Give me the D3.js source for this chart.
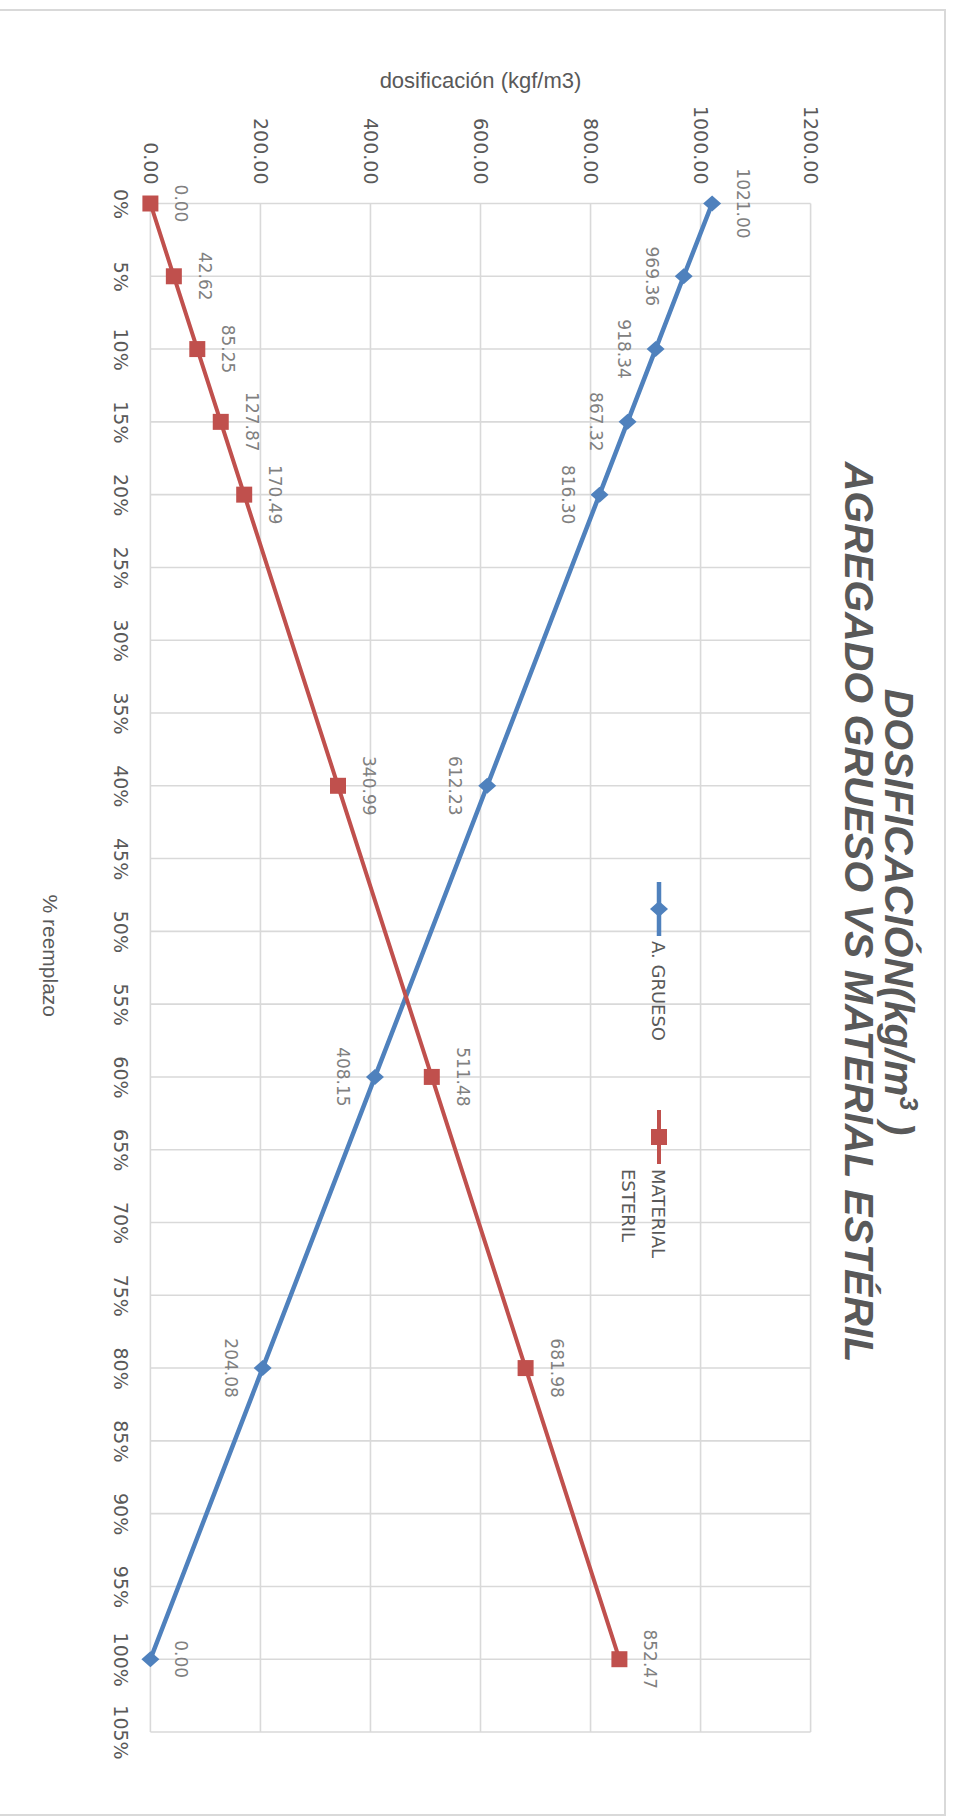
<!DOCTYPE html>
<html>
<head>
<meta charset="utf-8">
<script src="https://cdn.jsdelivr.net/npm/d3@7"></script>
<style>
  body { margin: 0; background: #fff; }
  svg { display: block; }
</style>
</head>
<body>
<div id="chart"></div>
<script>
"use strict";

// data
const reemplazo = [0, 0.05, 0.10, 0.15, 0.20, 0.40, 0.60, 0.80, 1.00];
const aGrueso = [1021.00, 969.36, 918.34, 867.32, 816.30, 612.23, 408.15, 204.08, 0.00];
const materialEsteril = [0.00, 42.62, 85.25, 127.87, 170.49, 340.99, 511.48, 681.98, 852.47];
const categoryTicks = [0, 0.05, 0.10, 0.15, 0.20, 0.25, 0.30, 0.35, 0.40, 0.45, 0.50,
  0.55, 0.60, 0.65, 0.70, 0.75, 0.80, 0.85, 0.90, 0.95, 1.00, 1.05];
const valueTicks = [0, 200, 400, 600, 800, 1000, 1200];

const msm = {
  width: 953,
  height: 1816,
  // chart box in the unrotated frame (it is turned 90deg clockwise on the page)
  boxW: 1805,
  boxH: 952,
  plotLeft: 193.5,
  plotRight: 1722,
  plotTop: 134.4,
  plotBottom: 794.6
};

const blue = "#4f81bd";
const red = "#c0504d";
const grid = "#d9d9d9";

let svg = d3.select("#chart")
  .append("svg")
  .attr("width", msm.width)
  .attr("height", msm.height);

// everything is drawn as a normal chart and then turned clockwise
let g = svg.append("g")
  .attr("transform", "translate(945,10) rotate(90)");

g.append("rect")
  .attr("x", 0).attr("y", 0)
  .attr("width", msm.boxW).attr("height", msm.boxH)
  .attr("fill", "#fff")
  .attr("stroke", grid)
  .attr("stroke-width", 2);

let xScale = d3.scaleLinear()
  .domain([0, 1.05])
  .range([msm.plotLeft, msm.plotRight]);

let yScale = d3.scaleLinear()
  .domain([0, 1200])
  .range([msm.plotBottom, msm.plotTop]);

// gridlines
g.append("g").selectAll("line")
  .data(categoryTicks)
  .enter().append("line")
  .attr("x1", (d) => xScale(d)).attr("x2", (d) => xScale(d))
  .attr("y1", msm.plotTop).attr("y2", msm.plotBottom)
  .attr("stroke", grid).attr("stroke-width", 1.6);

g.append("g").selectAll("line")
  .data(valueTicks)
  .enter().append("line")
  .attr("x1", msm.plotLeft).attr("x2", msm.plotRight)
  .attr("y1", (d) => yScale(d)).attr("y2", (d) => yScale(d))
  .attr("stroke", grid).attr("stroke-width", 1.6);

// axes (labels only, lines come from the grid)
let yAxis = d3.axisLeft(yScale)
  .tickValues(valueTicks)
  .tickSize(0)
  .tickPadding(19)
  .tickFormat(d3.format(".2f"));
let yAxisG = g.append("g")
  .attr("transform", "translate(" + msm.plotLeft + ",0)")
  .call(yAxis);

let xAxis = d3.axisBottom(xScale)
  .tickValues(categoryTicks)
  .tickSize(0)
  .tickPadding(23)
  .tickFormat(d3.format(".0%"));
let xAxisG = g.append("g")
  .attr("transform", "translate(0," + msm.plotBottom + ")")
  .call(xAxis);

[yAxisG, xAxisG].forEach((a) => {
  a.select(".domain").remove();
  a.selectAll("text")
    .attr("fill", "#595959")
    .style("font-family", "'DejaVu Sans', Verdana, sans-serif")
    .style("font-size", "19px");
});

// series
let series = [
  { name: "A. GRUESO", values: aGrueso, color: blue, marker: "diamond", width: 4.5 },
  { name: "MATERIAL ESTERIL", values: materialEsteril, color: red, marker: "square", width: 4 }
];

function markerPath(type) {
  if (type === "diamond") {
    return "M0,-9L8,0L0,9L-8,0Z";
  }
  return "M-8,-8L8,-8L8,8L-8,8Z";
}

let line = d3.line()
  .x((d) => xScale(d.x))
  .y((d) => yScale(d.y));

series.forEach((s) => {
  let pts = reemplazo.map((p, i) => ({ x: p, y: s.values[i] }));

  g.append("path")
    .datum(pts)
    .attr("fill", "none")
    .attr("stroke", s.color)
    .attr("stroke-width", s.width)
    .attr("stroke-linejoin", "round")
    .attr("d", line);

  g.append("g").selectAll("path")
    .data(pts)
    .enter().append("path")
    .attr("transform", (d) => "translate(" + xScale(d.x) + "," + yScale(d.y) + ")")
    .attr("d", markerPath(s.marker))
    .attr("fill", s.color);

  // data labels: end points of the blue line above, its inner points below
  g.append("g").selectAll("text")
    .data(pts)
    .enter().append("text")
    .attr("x", (d) => xScale(d.x))
    .attr("y", (d, i) => {
      let below = s.marker === "diamond" && i > 0 && i < pts.length - 1;
      return below ? yScale(d.y) + 38 : yScale(d.y) - 25;
    })
    .attr("text-anchor", "middle")
    .attr("fill", "#808080")
    .style("font-family", "'DejaVu Sans', Verdana, sans-serif")
    .style("font-size", "17px")
    .text((d) => d3.format(".2f")(d.y));
});

// title
let title = g.append("text")
  .attr("x", 902)
  .attr("text-anchor", "middle")
  .attr("fill", "#595959")
  .style("font-family", "'Liberation Sans', Arial, sans-serif")
  .style("font-size", "41px")
  .style("font-weight", "bold")
  .style("font-style", "italic");
let t1 = title.append("tspan").attr("x", 902).attr("y", 60);
t1.append("tspan").text("DOSIFICACIÓN(kg/m");
t1.append("tspan").attr("dy", -15).style("font-size", "25px").text("3");
t1.append("tspan").attr("dy", 15).text(" )");
title.append("tspan").attr("x", 902).attr("y", 100)
  .text("AGREGADO GRUESO VS MATERIAL ESTÉRIL");

// axis titles
g.append("text")
  .attr("transform", "translate(78," + ((msm.plotTop + msm.plotBottom) / 2) + ") rotate(-90)")
  .attr("text-anchor", "middle")
  .attr("fill", "#595959")
  .style("font-family", "'Liberation Sans', sans-serif")
  .style("font-size", "22px")
  .text("dosificación (kgf/m3)");

g.append("text")
  .attr("x", (msm.plotLeft + msm.plotRight) / 2 - 12)
  .attr("y", 902)
  .attr("text-anchor", "middle")
  .attr("fill", "#595959")
  .style("font-family", "'Liberation Sans', sans-serif")
  .style("font-size", "21px")
  .text("% reemplazo");

// legend
let legend = [
  { x: 872, lines: ["A. GRUESO"], s: series[0] },
  { x: 1100, lines: ["MATERIAL", "ESTERIL"], s: series[1] }
];
legend.forEach((l) => {
  let lg = g.append("g").attr("transform", "translate(" + l.x + ",286)");
  lg.append("line")
    .attr("x1", 0).attr("x2", 54)
    .attr("stroke", l.s.color)
    .attr("stroke-width", l.s.width);
  lg.append("path")
    .attr("transform", "translate(27,0)")
    .attr("d", markerPath(l.s.marker))
    .attr("fill", l.s.color);
  lg.selectAll("text")
    .data(l.lines)
    .enter().append("text")
    .attr("x", 59)
    .attr("y", (d, i) => 7 + i * 30)
    .attr("fill", "#595959")
    .style("font-family", "'DejaVu Sans', Verdana, sans-serif")
    .style("font-size", "18px")
    .text((d) => d);
});
</script>
</body>
</html>
